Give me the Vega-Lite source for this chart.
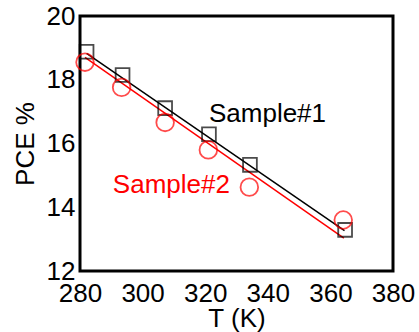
{
  "$schema": "https://vega.github.io/schema/vega-lite/v6.json",
  "width": 313,
  "height": 255,
  "autosize": {"type": "none"},
  "padding": {"left": 80, "top": 16, "right": 26, "bottom": 61},
  "background": "white",
  "config": {
    "view": {"stroke": "black", "strokeWidth": 3},
    "font": "Liberation Sans",
    "axis": {
      "domain": false,
      "grid": false,
      "ticks": false,
      "labelOverlap": false,
      "labelFlush": false,
      "labelFont": "Liberation Sans",
      "labelFontSize": 26,
      "labelColor": "black",
      "titleFont": "Liberation Sans",
      "titleFontSize": 26,
      "titleFontWeight": "normal",
      "titleColor": "black"
    }
  },
  "datasets": {
    "pts": [
      {"series": "Sample#1", "T": 282.1, "PCE": 18.88},
      {"series": "Sample#1", "T": 293.6, "PCE": 18.15},
      {"series": "Sample#1", "T": 307.2, "PCE": 17.11},
      {"series": "Sample#1", "T": 321.2, "PCE": 16.29},
      {"series": "Sample#1", "T": 334.3, "PCE": 15.33},
      {"series": "Sample#1", "T": 364.7, "PCE": 13.29},
      {"series": "Sample#2", "T": 281.6, "PCE": 18.55},
      {"series": "Sample#2", "T": 293.3, "PCE": 17.76},
      {"series": "Sample#2", "T": 307.2, "PCE": 16.66},
      {"series": "Sample#2", "T": 321.0, "PCE": 15.8},
      {"series": "Sample#2", "T": 334.1, "PCE": 14.63},
      {"series": "Sample#2", "T": 364.1, "PCE": 13.6}
    ],
    "fits": [
      {"series": "Sample#1", "T": 282.1, "PCE": 18.83},
      {"series": "Sample#1", "T": 364.5, "PCE": 13.27},
      {"series": "Sample#2", "T": 281.6, "PCE": 18.7},
      {"series": "Sample#2", "T": 364.3, "PCE": 13.03}
    ],
    "labels": [
      {"series": "Sample#1", "T": 321.2, "PCE": 16.68},
      {"series": "Sample#2", "T": 290.5, "PCE": 14.44}
    ],
    "xticks": [{"T": 300}, {"T": 320}, {"T": 340}, {"T": 360}],
    "yticks": [{"PCE": 14}, {"PCE": 16}, {"PCE": 18}]
  },
  "encoding": {
    "x": {"field": "T", "type": "quantitative", "scale": {"domain": [280, 380], "nice": false}, "axis": {"orient": "bottom", "title": "T (K)", "values": [280, 300, 320, 340, 360, 380], "labelPadding": 9, "titlePadding": -1}},
    "y": {"field": "PCE", "type": "quantitative", "scale": {"domain": [12, 20], "nice": false, "zero": false}, "axis": {"orient": "left", "title": "PCE %", "values": [12, 14, 16, 18, 20], "labelPadding": 5, "titlePadding": 8}}
  },
  "layer": [
    {
      "data": {"name": "xticks"},
      "mark": {"type": "rule", "color": "black", "strokeWidth": 2},
      "encoding": {"y": {"datum": 12}, "y2": {"datum": 12.25}}
    },
    {
      "data": {"name": "xticks"},
      "mark": {"type": "rule", "color": "black", "strokeWidth": 2},
      "encoding": {"y": {"datum": 20}, "y2": {"datum": 19.75}}
    },
    {
      "data": {"name": "yticks"},
      "mark": {"type": "rule", "color": "black", "strokeWidth": 2},
      "encoding": {"x": {"datum": 280}, "x2": {"datum": 282.56}}
    },
    {
      "data": {"name": "yticks"},
      "mark": {"type": "rule", "color": "black", "strokeWidth": 2},
      "encoding": {"x": {"datum": 380}, "x2": {"datum": 377.44}}
    },
    {
      "data": {"name": "fits"},
      "mark": {"type": "line", "strokeWidth": 1.5},
      "encoding": {
        "color": {"field": "series", "type": "nominal", "scale": {"domain": ["Sample#1", "Sample#2"], "range": ["black", "#ff0000"]}, "legend": null},
        "detail": {"field": "series"}
      }
    },
    {
      "data": {"name": "pts"},
      "transform": [{"filter": "datum.series == 'Sample#1'"}],
      "mark": {"type": "point", "shape": "square", "size": 190, "strokeWidth": 1.8, "filled": false},
      "encoding": {"color": {"field": "series", "type": "nominal", "legend": null}}
    },
    {
      "data": {"name": "pts"},
      "transform": [{"filter": "datum.series == 'Sample#2'"}],
      "mark": {"type": "point", "shape": "circle", "size": 310, "strokeWidth": 1.8, "filled": false},
      "encoding": {"color": {"field": "series", "type": "nominal", "legend": null}}
    },
    {
      "data": {"name": "labels"},
      "mark": {"type": "text", "align": "left", "baseline": "alphabetic", "fontSize": 26, "font": "Liberation Sans"},
      "encoding": {"text": {"field": "series"}, "color": {"field": "series", "type": "nominal", "legend": null}}
    }
  ]
}
